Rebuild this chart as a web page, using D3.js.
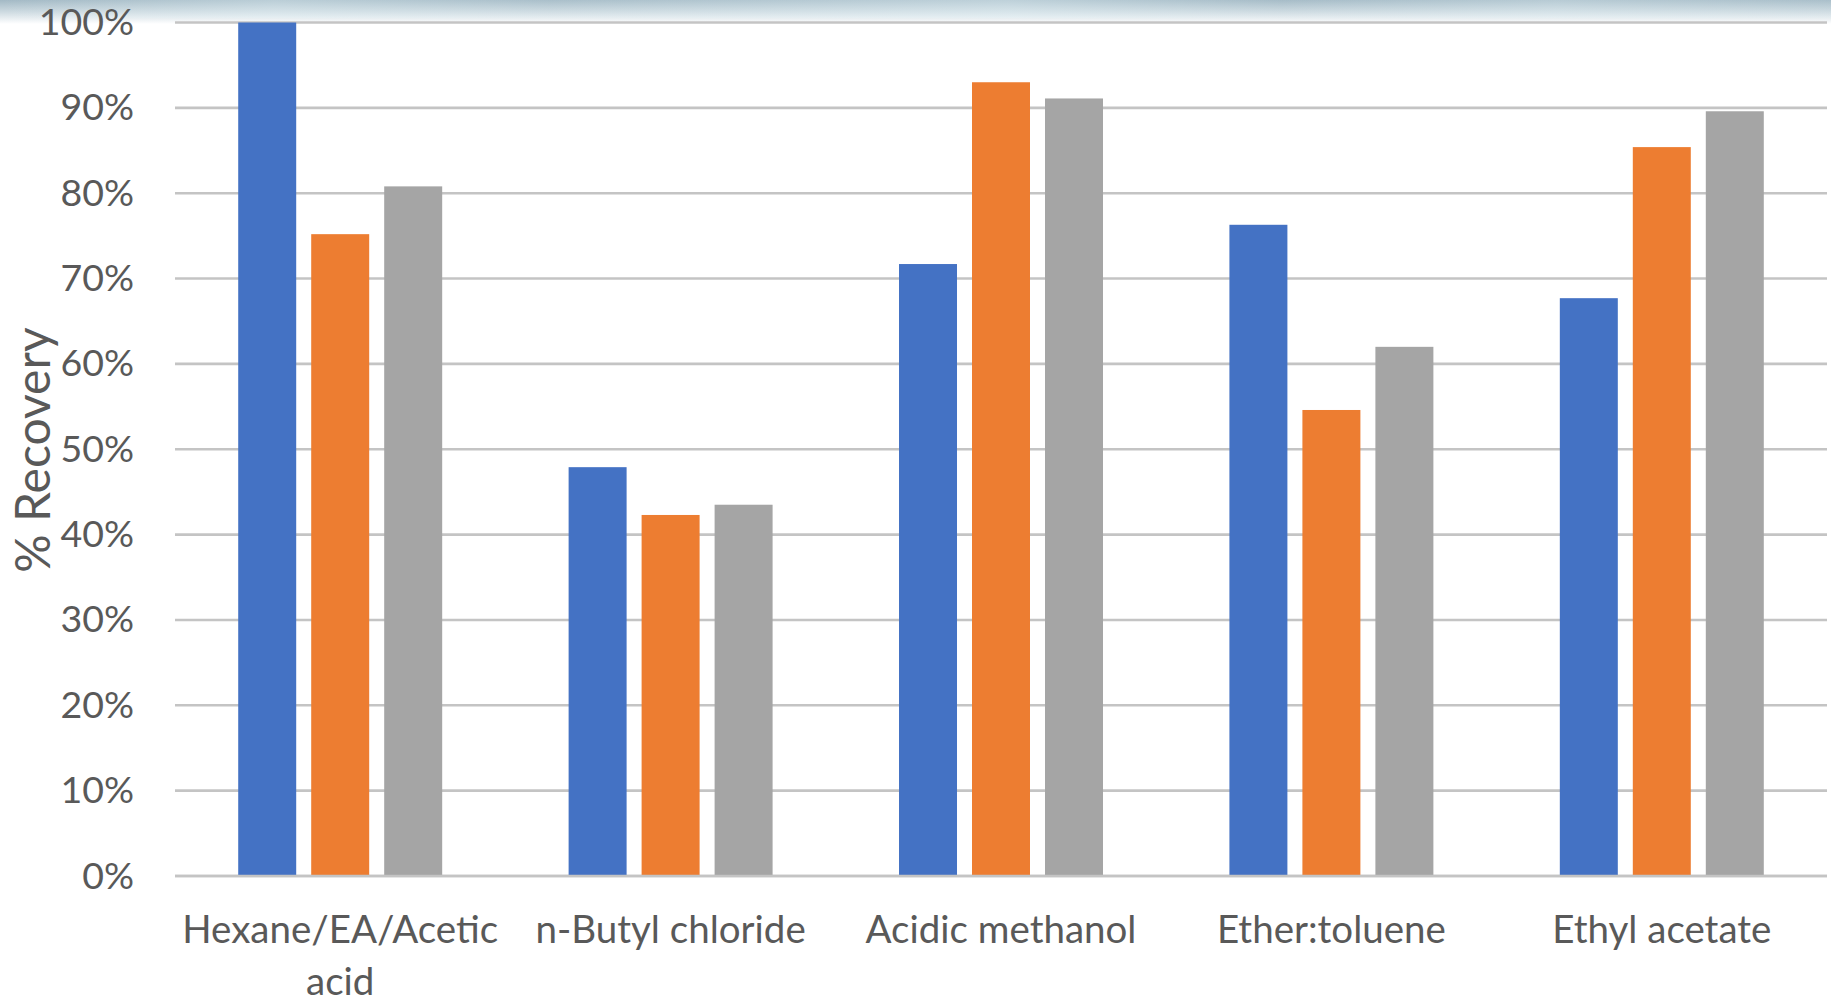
<!DOCTYPE html>
<html>
<head>
<meta charset="utf-8">
<script src="https://cdn.jsdelivr.net/npm/d3@7"></script>
<style>
  html, body { margin: 0; padding: 0; background: #ffffff; overflow: hidden; }
  svg { display: block; }
</style>
</head>
<body>
<svg id="chart" width="1831" height="1001"></svg>
<script>
// Recovery per extraction solvent, three replicate series
const categories = ["Hexane/EA/Acetic acid", "n-Butyl chloride", "Acidic methanol", "Ether:toluene", "Ethyl acetate"];
const seriesNames = ["Series 1", "Series 2", "Series 3"];
const series1 = [1.000, 0.479, 0.717, 0.763, 0.677];
const series2 = [0.752, 0.423, 0.930, 0.546, 0.854];
const series3 = [0.808, 0.435, 0.911, 0.620, 0.896];
const yTicks = [0, 0.1, 0.2, 0.3, 0.4, 0.5, 0.6, 0.7, 0.8, 0.9, 1.0];
const yTitle = "% Recovery";

const seriesValues = [series1, series2, series3];
const colors = ["#4472C4", "#ED7D31", "#A5A5A5"];

const W = 1831, H = 1001;
const margin = { left: 175, right: 4, top: 22.5, bottom: 125 };
const font = "Lato, 'Open Sans', sans-serif";
const textColor = "#595959";

const svg = d3.select("#chart");

// soft photographic band along the top edge
const defs = svg.append("defs");
const haze = defs.append("linearGradient").attr("id", "haze").attr("x1", 0).attr("y1", 0).attr("x2", 0).attr("y2", 1);
haze.append("stop").attr("offset", "0%").attr("stop-color", "#a3b9c5");
haze.append("stop").attr("offset", "45%").attr("stop-color", "#c9d7de");
haze.append("stop").attr("offset", "100%").attr("stop-color", "#ffffff");
const hazeX = defs.append("linearGradient").attr("id", "hazeX").attr("x1", 0).attr("y1", 0).attr("x2", 1).attr("y2", 0);
[["0%", 0.0], ["15%", 0.35], ["30%", 0.1], ["55%", 0.4], ["70%", 0.05], ["85%", 0.3], ["100%", 0.1]].forEach(([o, a]) =>
  hazeX.append("stop").attr("offset", o).attr("stop-color", "#e6f4f8").attr("stop-opacity", a));

svg.append("rect").attr("x", 0).attr("y", 0).attr("width", W).attr("height", 24).attr("fill", "url(#haze)");
svg.append("rect").attr("x", 0).attr("y", 0).attr("width", W).attr("height", 18).attr("fill", "url(#hazeX)");

const x0 = d3.scaleBand()
  .domain(categories)
  .range([margin.left, W - margin.right])
  .paddingInner(0)
  .paddingOuter(0);

const x1 = d3.scaleBand()
  .domain(seriesNames)
  .range([0, x0.bandwidth()])
  .paddingInner(0.2055)
  .paddingOuter(0.866);

const y = d3.scaleLinear()
  .domain([0, 1])
  .range([H - margin.bottom, margin.top]);

// gridlines
svg.append("g")
  .selectAll("line")
  .data(yTicks)
  .join("line")
  .attr("x1", margin.left)
  .attr("x2", W - margin.right)
  .attr("y1", d => y(d))
  .attr("y2", d => y(d))
  .attr("stroke", "#c4c4c4")
  .attr("stroke-width", 2.6);

// y axis labels
const yAxis = d3.axisLeft(y)
  .tickValues(yTicks)
  .tickFormat(d3.format(".0%"))
  .tickSize(0)
  .tickPadding(41);
const yG = svg.append("g").attr("transform", `translate(${margin.left},0)`).call(yAxis);
yG.select(".domain").remove();
yG.selectAll("text")
  .attr("fill", textColor)
  .style("font-family", font)
  .style("font-size", "37.5px");

// bars
const groups = svg.append("g")
  .selectAll("g")
  .data(categories)
  .join("g")
  .attr("transform", d => `translate(${x0(d)},0)`);

groups.selectAll("rect")
  .data((d, i) => seriesNames.map((s, j) => ({ s, v: seriesValues[j][i], c: colors[j] })))
  .join("rect")
  .attr("x", d => x1(d.s))
  .attr("width", x1.bandwidth())
  .attr("y", d => y(d.v))
  .attr("height", d => y(0) - y(d.v))
  .attr("fill", d => d.c);

// baseline
svg.append("line")
  .attr("x1", margin.left).attr("x2", W - margin.right)
  .attr("y1", y(0)).attr("y2", y(0))
  .attr("stroke", "#c4c4c4").attr("stroke-width", 2.6);

// category labels, wrapped to the band width
const xAxis = d3.axisBottom(x0).tickSize(0).tickPadding(0);
const xG = svg.append("g").attr("transform", `translate(0,${y(0)})`).call(xAxis);
xG.select(".domain").remove();
xG.selectAll("text")
  .attr("fill", textColor)
  .style("font-family", font)
  .style("font-size", "38.5px")
  .attr("y", 0)
  .attr("dy", null)
  .each(function (d) {
    const t = d3.select(this);
    const words = d.split(" ");
    t.text(null);
    const lineH = 52;
    const firstY = 67;
    let line = [];
    let n = 0;
    let tspan = t.append("tspan").attr("x", 0).attr("y", firstY);
    for (const w of words) {
      line.push(w);
      tspan.text(line.join(" "));
      if (tspan.node().getComputedTextLength() > x0.bandwidth() - 4 && line.length > 1) {
        line.pop();
        tspan.text(line.join(" "));
        line = [w];
        n += 1;
        tspan = t.append("tspan").attr("x", 0).attr("y", firstY + n * lineH).text(w);
      }
    }
  });

// y axis title
svg.append("text")
  .attr("transform", `translate(50,${450}) rotate(-90)`)
  .attr("text-anchor", "middle")
  .attr("fill", textColor)
  .style("font-family", font)
  .style("font-size", "48px")
  .text(yTitle);
</script>
</body>
</html>
